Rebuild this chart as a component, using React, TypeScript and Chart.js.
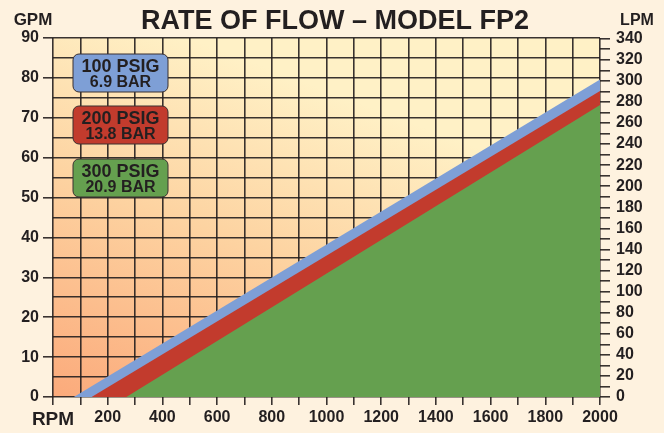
import React, { useEffect, useRef } from "react";
import { Chart, registerables } from "chart.js";

Chart.register(...registerables);

// ---- data ----
const seriesNames = ["100 PSIG", "200 PSIG", "300 PSIG"];
const seriesBar = ["6.9 BAR", "13.8 BAR", "20.9 BAR"];
const rpm100 = [76, 2000];
const gpm100 = [0, 79.6];
const rpm200 = [141, 2000];
const gpm200 = [0, 76.7];
const rpm300 = [268, 2000];
const gpm300 = [0, 73.2];

const xMin = 0;
const xMax = 2000;
const gpmMax = 90;
const lpmPerGpm = 3.785;
const xLabelStep = 200;
const gpmLabelStep = 10;
const lpmLabelStep = 20;

const titleText = "RATE OF FLOW \u2013 MODEL FP2";
const leftUnit = "GPM";
const rightUnit = "LPM";
const xUnit = "RPM";

// ---- styles ----
const FONT = "'Liberation Sans Narrow', 'Liberation Sans', Arial, sans-serif";
const TEXT = "#231F20";
const PAGE = "#FEF2DF";
const BLUE = "#7E9FD6";
const RED = "#C23B2D";
const GREEN = "#65A04F";
const GRID = "rgba(35,30,30,0.9)";
const colors = [BLUE, RED, GREEN];

const pts = (xs: number[], ys: number[]) => xs.map((x, i) => ({ x, y: ys[i] }));

const decorPlugin = {
  id: "decor",
  beforeDraw(chart: any) {
    const { ctx, chartArea: a, width, height } = chart;
    ctx.save();
    ctx.fillStyle = PAGE;
    ctx.fillRect(0, 0, width, height);
    const g = ctx.createLinearGradient(a.left, a.bottom, a.left + (a.right - a.left) * 0.25, a.top);
    g.addColorStop(0, "#FBAA7B");
    g.addColorStop(0.55, "#FDD3A1");
    g.addColorStop(1, "#FFF1C6");
    ctx.fillStyle = g;
    ctx.fillRect(a.left, a.top, a.right - a.left, a.bottom - a.top);
    ctx.restore();
  },
  afterDraw(chart: any) {
    const { ctx, chartArea: a } = chart;
    ctx.save();
    ctx.fillStyle = TEXT;
    ctx.textAlign = "center";
    ctx.textBaseline = "alphabetic";
    ctx.font = `bold 27px ${FONT}`;
    ctx.fillText(titleText, 335, 29);
    ctx.font = `bold 17px ${FONT}`;
    ctx.fillText(leftUnit, 33, 25);
    ctx.font = `bold 16px ${FONT}`;
    ctx.fillText(rightUnit, 637, 25);

    // legend boxes
    const bx = a.left + 20;
    const bw = 95;
    const bh = 38;
    const tops = [16, 68, 121];
    for (let i = 0; i < seriesNames.length; i++) {
      const by = a.top + tops[i];
      ctx.beginPath();
      ctx.roundRect(bx, by, bw, bh, 6);
      ctx.fillStyle = colors[i];
      ctx.fill();
      ctx.lineWidth = 1;
      ctx.strokeStyle = "#3a3030";
      ctx.stroke();
      ctx.fillStyle = TEXT;
      ctx.textAlign = "center";
      ctx.textBaseline = "middle";
      ctx.font = `bold 18px ${FONT}`;
      ctx.fillText(seriesNames[i], bx + bw / 2, by + 13);
      ctx.font = `bold 16px ${FONT}`;
      ctx.fillText(seriesBar[i], bx + bw / 2, by + 29);
    }
    ctx.restore();
  },
};

export default function App() {
  const ref = useRef<HTMLCanvasElement>(null);
  useEffect(() => {
    if (!ref.current) return;
    const tickFont = { family: FONT, size: 16, weight: "bold" as const };
    const chart = new Chart(ref.current, {
      type: "line",
      data: {
        datasets: [
          { label: seriesNames[2], data: pts(rpm300, gpm300), backgroundColor: GREEN, borderWidth: 0, pointRadius: 0, fill: "origin" },
          { label: seriesNames[1], data: pts(rpm200, gpm200), backgroundColor: RED, borderWidth: 0, pointRadius: 0, fill: "origin" },
          { label: seriesNames[0], data: pts(rpm100, gpm100), backgroundColor: BLUE, borderWidth: 0, pointRadius: 0, fill: "origin" },
        ],
      },
      options: {
        animation: false,
        responsive: false,
        devicePixelRatio: 1,
        layout: { padding: { top: 38, left: 0, right: 0, bottom: 0 } },
        plugins: { legend: { display: false }, tooltip: { enabled: false }, title: { display: false } },
        elements: { line: { tension: 0 } },
        scales: {
          x: {
            type: "linear",
            min: xMin,
            max: xMax,
            z: 1,
            afterFit: (s: any) => { s.height = 36; },
            border: { display: false },
            grid: { color: GRID, lineWidth: 1.6, tickLength: 8, tickColor: GRID },
            ticks: {
              stepSize: 100,
              autoSkip: false,
              maxRotation: 0,
              padding: 3,
              color: TEXT,
              font: (c: any) => (c.tick && c.tick.value === 0 ? { family: FONT, size: 19, weight: "bold" } : tickFont),
              callback: (v: any) => (v === 0 ? xUnit : v % xLabelStep === 0 ? String(v) : ""),
            },
          },
          y: {
            type: "linear",
            position: "left",
            min: 0,
            max: gpmMax,
            z: 1,
            afterFit: (s: any) => { s.width = 53; },
            border: { display: false },
            grid: {
              color: GRID,
              lineWidth: 1.6,
              tickLength: 10,
              tickColor: (c: any) => (c.tick && c.tick.value % gpmLabelStep === 0 ? GRID : "rgba(0,0,0,0)"),
            },
            ticks: {
              stepSize: 5,
              autoSkip: false,
              padding: 4,
              color: TEXT,
              font: tickFont,
              callback: (v: any) => (v % gpmLabelStep === 0 ? String(v) : ""),
            },
          },
          y2: {
            type: "linear",
            position: "right",
            min: 0,
            max: gpmMax * lpmPerGpm,
            z: 1,
            afterFit: (s: any) => { s.width = 64; },
            border: { display: false },
            grid: { drawOnChartArea: false, color: GRID, lineWidth: 1.6, tickLength: 10, tickColor: GRID },
            ticks: {
              stepSize: 10,
              autoSkip: false,
              includeBounds: false,
              padding: 6,
              color: TEXT,
              font: tickFont,
              callback: (v: any) => (Math.round(v) % lpmLabelStep === 0 ? String(Math.round(v)) : ""),
            },
          },
        },
      },
      plugins: [decorPlugin],
    });
    return () => chart.destroy();
  }, []);
  return (
    <div style={{ position: "fixed", left: 0, top: 0, width: 664, height: 433, background: PAGE }}>
      <canvas ref={ref} width={664} height={433} style={{ width: 664, height: 433, display: "block" }} />
    </div>
  );
}
